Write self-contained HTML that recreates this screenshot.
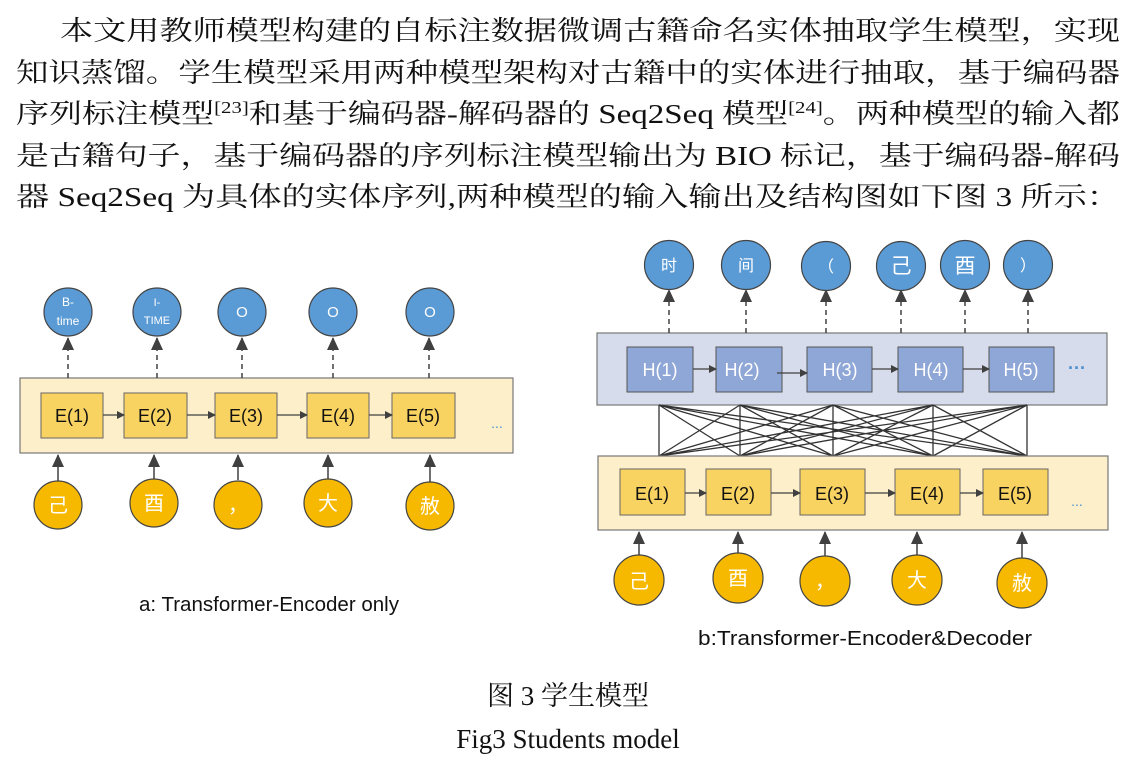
<!DOCTYPE html>
<html><head><meta charset="utf-8"><style>
html,body{margin:0;padding:0;background:#fff;width:1136px;height:766px;overflow:hidden}
svg{display:block}
.p{font-family:"Liberation Serif","Noto Serif CJK SC","Noto Sans CJK SC",serif;font-size:27px;fill:#111}
.c{font-family:"Liberation Sans","Noto Sans CJK SC",sans-serif;fill:#fff}
.l{font-family:"Liberation Sans","Noto Sans CJK SC",sans-serif;fill:#111}
</style></head><body>
<svg width="1136" height="766" viewBox="0 0 1136 766" xmlns="http://www.w3.org/2000/svg">
<defs>
<marker id="a" markerWidth="8" markerHeight="8" refX="7" refY="4" orient="auto" markerUnits="userSpaceOnUse"><path d="M0,0 L8,4 L0,8 z" fill="#404040"/></marker>
<marker id="b" markerWidth="14" markerHeight="12" refX="12" refY="6" orient="auto" markerUnits="userSpaceOnUse"><path d="M0,0 L13,6 L0,12 z" fill="#404040"/></marker>
</defs>
<text class="p" x="60" y="40" textLength="1060" lengthAdjust="spacingAndGlyphs">本文用教师模型构建的自标注数据微调古籍命名实体抽取学生模型，实现</text>
<text class="p" x="16" y="82" textLength="1104" lengthAdjust="spacingAndGlyphs">知识蒸馏。学生模型采用两种模型架构对古籍中的实体进行抽取，基于编码器</text>
<text class="p" x="16" y="123" textLength="1104" lengthAdjust="spacingAndGlyphs">序列标注模型<tspan font-size="17" dy="-10">[23]</tspan><tspan dy="10">和基于编码器-解码器的 Seq2Seq 模型</tspan><tspan font-size="17" dy="-10">[24]</tspan><tspan dy="10">。两种模型的输入都</tspan></text>
<text class="p" x="16" y="165" textLength="1104" lengthAdjust="spacingAndGlyphs">是古籍句子，基于编码器的序列标注模型输出为 BIO 标记，基于编码器-解码</text>
<text class="p" x="16" y="206" textLength="1104" lengthAdjust="spacingAndGlyphs">器 Seq2Seq 为具体的实体序列,两种模型的输入输出及结构图如下图 3 所示：</text>

<rect x="20" y="378" width="493" height="75" fill="#fcefc9" stroke="#777" stroke-width="1.2"/>
<g fill="#f9d362" stroke="#666" stroke-width="1">
<rect x="41" y="393" width="62" height="45"/><rect x="124" y="393" width="63" height="45"/><rect x="215" y="393" width="62" height="45"/><rect x="307" y="393" width="62" height="45"/><rect x="392" y="393" width="63" height="45"/>
</g>
<g stroke="#404040" stroke-width="1.3" marker-end="url(#a)">
<line x1="103" y1="415" x2="124" y2="415"/><line x1="187" y1="415" x2="215" y2="415"/><line x1="277" y1="415" x2="307" y2="415"/><line x1="369" y1="415" x2="392" y2="415"/>
</g>
<g class="l" font-size="18" text-anchor="middle">
<text x="72" y="422">E(1)</text><text x="155" y="422">E(2)</text><text x="246" y="422">E(3)</text><text x="338" y="422">E(4)</text><text x="423" y="422">E(5)</text>
</g>
<text x="497" y="428" font-size="14" fill="#4a90d0" font-family="Liberation Sans" text-anchor="middle">...</text>
<g stroke="#404040" stroke-width="1.5" stroke-dasharray="5,4" marker-end="url(#b)">
<line x1="68" y1="378" x2="68" y2="338"/><line x1="157" y1="378" x2="157" y2="338"/><line x1="242" y1="378" x2="242" y2="338"/><line x1="333" y1="378" x2="333" y2="338"/><line x1="429" y1="378" x2="429" y2="338"/>
</g>
<g fill="#5b9bd5" stroke="#444" stroke-width="1.2">
<circle cx="68" cy="312" r="24"/><circle cx="157" cy="312" r="24"/><circle cx="242" cy="312" r="24"/><circle cx="333" cy="312" r="24"/><circle cx="430" cy="312" r="24"/>
</g>
<g class="c" text-anchor="middle">
<text x="68" y="306" font-size="12">B-</text><text x="68" y="325" font-size="12">time</text>
<text x="157" y="306" font-size="11">I-</text><text x="157" y="324" font-size="11">TIME</text>
<text x="242" y="317" font-size="15">O</text><text x="333" y="317" font-size="15">O</text><text x="430" y="317" font-size="15">O</text>
</g>
<g stroke="#404040" stroke-width="1.5" marker-end="url(#b)">
<line x1="58" y1="482" x2="58" y2="455"/><line x1="154" y1="480" x2="154" y2="455"/><line x1="238" y1="480" x2="238" y2="455"/><line x1="328" y1="480" x2="328" y2="455"/><line x1="430" y1="482" x2="430" y2="455"/>
</g>
<g fill="#f7b900" stroke="#444" stroke-width="1.2">
<circle cx="58" cy="505" r="24"/><circle cx="154" cy="503" r="24"/><circle cx="238" cy="505" r="24"/><circle cx="328" cy="503" r="24"/><circle cx="430" cy="506" r="24"/>
</g>
<g class="c" text-anchor="middle" font-size="20">
<text x="58" y="512">己</text><text x="154" y="510">酉</text><text x="238" y="512">，</text><text x="328" y="510">大</text><text x="430" y="513">赦</text>
</g>
<text class="l" x="139" y="611" font-size="20" textLength="260" lengthAdjust="spacingAndGlyphs">a: Transformer-Encoder only</text>

<rect x="597" y="333" width="510" height="72" fill="#d6dcec" stroke="#777" stroke-width="1.2"/>
<g fill="#8fa7d6" stroke="#555" stroke-width="1">
<rect x="627" y="347" width="66" height="45"/><rect x="716" y="347" width="66" height="45"/><rect x="807" y="347" width="65" height="45"/><rect x="898" y="347" width="65" height="45"/><rect x="989" y="347" width="65" height="45"/>
</g>
<g stroke="#404040" stroke-width="1.3" marker-end="url(#a)">
<line x1="693" y1="369" x2="716" y2="369"/><line x1="777" y1="373" x2="807" y2="373"/><line x1="872" y1="369" x2="898" y2="369"/><line x1="963" y1="369" x2="989" y2="369"/>
</g>
<g class="c" font-size="18" text-anchor="middle">
<text x="660" y="376">H(1)</text><text x="742" y="376">H(2)</text><text x="840" y="376">H(3)</text><text x="931" y="376">H(4)</text><text x="1021" y="376">H(5)</text>
</g>
<text x="1077" y="374" font-size="18" font-weight="bold" fill="#4a90d0" font-family="Liberation Sans" text-anchor="middle">···</text>
<g stroke="#333" stroke-width="1.3">
<line x1="659" y1="405" x2="659" y2="456"/><line x1="740" y1="405" x2="740" y2="456"/><line x1="833" y1="405" x2="833" y2="456"/><line x1="933" y1="405" x2="933" y2="456"/><line x1="1027" y1="405" x2="1027" y2="456"/>
<path d="M659,405L740,456M659,405L833,456M659,405L933,456M659,405L1027,456
M740,405L659,456M740,405L833,456M740,405L933,456M740,405L1027,456
M833,405L659,456M833,405L740,456M833,405L933,456M833,405L1027,456
M933,405L659,456M933,405L740,456M933,405L833,456M933,405L1027,456
M1027,405L659,456M1027,405L740,456M1027,405L833,456M1027,405L933,456" fill="none"/>
</g>
<rect x="598" y="456" width="510" height="74" fill="#fcefc9" stroke="#777" stroke-width="1.2"/>
<g fill="#f9d362" stroke="#666" stroke-width="1">
<rect x="620" y="469" width="65" height="46"/><rect x="706" y="469" width="65" height="46"/><rect x="800" y="469" width="65" height="46"/><rect x="895" y="469" width="65" height="46"/><rect x="983" y="469" width="65" height="46"/>
</g>
<g stroke="#404040" stroke-width="1.3" marker-end="url(#a)">
<line x1="685" y1="493" x2="706" y2="493"/><line x1="771" y1="493" x2="800" y2="493"/><line x1="865" y1="493" x2="895" y2="493"/><line x1="960" y1="493" x2="983" y2="493"/>
</g>
<g class="l" font-size="18" text-anchor="middle">
<text x="652" y="500">E(1)</text><text x="738" y="500">E(2)</text><text x="832" y="500">E(3)</text><text x="927" y="500">E(4)</text><text x="1015" y="500">E(5)</text>
</g>
<text x="1077" y="506" font-size="14" fill="#4a90d0" font-family="Liberation Sans" text-anchor="middle">...</text>
<g stroke="#404040" stroke-width="1.5" stroke-dasharray="5,4" marker-end="url(#b)">
<line x1="669" y1="333" x2="669" y2="290"/><line x1="746" y1="333" x2="746" y2="290"/><line x1="826" y1="333" x2="826" y2="290"/><line x1="901" y1="333" x2="901" y2="290"/><line x1="965" y1="333" x2="965" y2="290"/><line x1="1028" y1="333" x2="1028" y2="290"/>
</g>
<g fill="#5b9bd5" stroke="#444" stroke-width="1.2">
<circle cx="669" cy="265" r="24.5"/><circle cx="746" cy="265" r="24.5"/><circle cx="826" cy="266" r="24.5"/><circle cx="901" cy="266" r="24.5"/><circle cx="965" cy="265" r="24.5"/><circle cx="1028" cy="265" r="24.5"/>
</g>
<g class="c" text-anchor="middle">
<text x="669" y="271" font-size="16">时</text><text x="746" y="271" font-size="16">间</text><text x="826" y="272" font-size="16">（</text><text x="901" y="273" font-size="21">己</text><text x="965" y="273" font-size="21">酉</text><text x="1028" y="271" font-size="16">）</text>
</g>
<g stroke="#404040" stroke-width="1.5" marker-end="url(#b)">
<line x1="639" y1="557" x2="639" y2="532"/><line x1="738" y1="555" x2="738" y2="532"/><line x1="825" y1="557" x2="825" y2="532"/><line x1="917" y1="557" x2="917" y2="532"/><line x1="1022" y1="559" x2="1022" y2="532"/>
</g>
<g fill="#f7b900" stroke="#444" stroke-width="1.2">
<circle cx="639" cy="580" r="25"/><circle cx="738" cy="578" r="25"/><circle cx="825" cy="581" r="25"/><circle cx="917" cy="580" r="25"/><circle cx="1022" cy="583" r="25"/>
</g>
<g class="c" text-anchor="middle" font-size="20">
<text x="639" y="588">己</text><text x="738" y="585">酉</text><text x="825" y="588">，</text><text x="917" y="587">大</text><text x="1022" y="590">赦</text>
</g>
<text class="l" x="698" y="645" font-size="20" textLength="334" lengthAdjust="spacingAndGlyphs">b:Transformer-Encoder&amp;Decoder</text>

<text class="p" x="568" y="705" font-size="24" text-anchor="middle">图 3  学生模型</text>
<text class="p" x="568" y="748" font-size="24" text-anchor="middle">Fig3 Students model</text>
</svg>
</body></html>
